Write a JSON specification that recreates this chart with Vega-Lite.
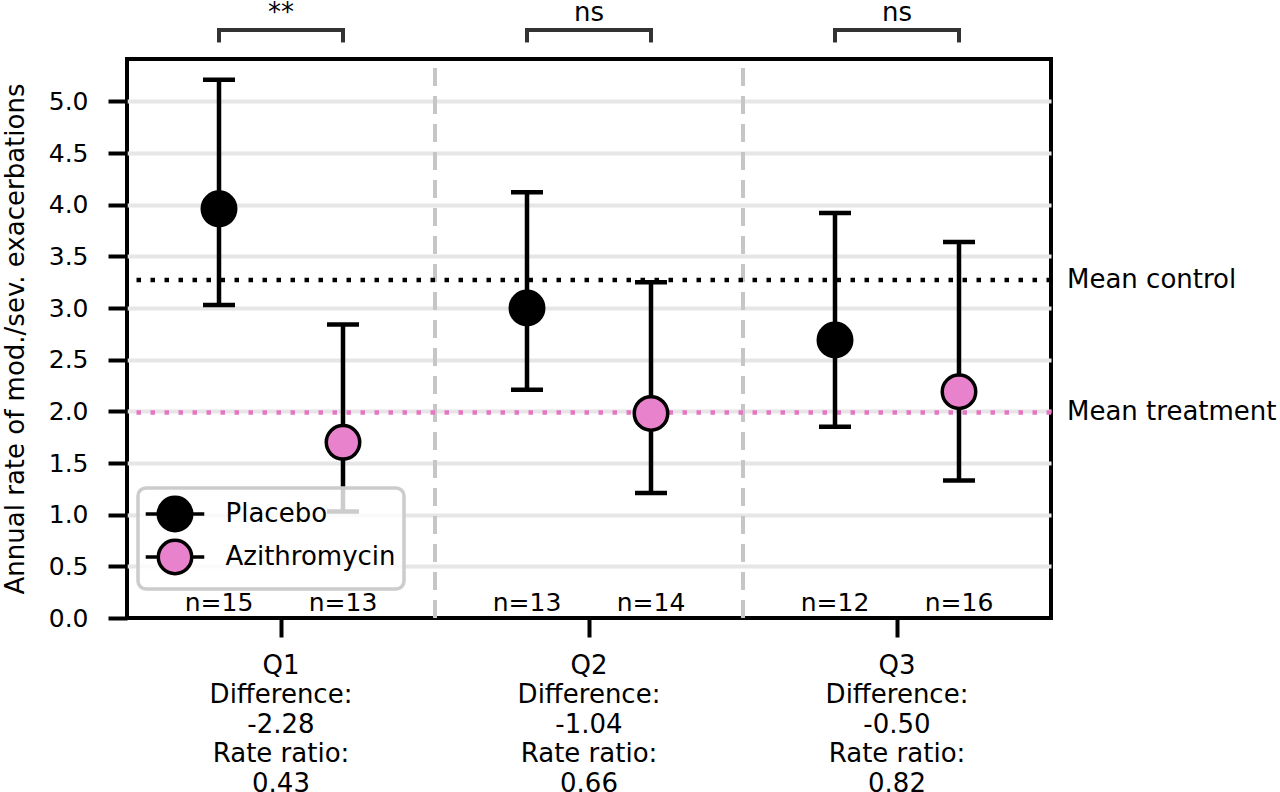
{
  "$schema": "https://vega.github.io/schema/vega-lite/v6.json",
  "autosize": {"type": "none"},
  "padding": {"left": 127, "top": 59, "right": 229, "bottom": 174},
  "width": 924,
  "height": 559,
  "background": "white",
  "datasets": {
    "points": [
      {"q": "Q1", "group": "Placebo", "rate": 3.96, "lo": 3.03, "hi": 5.21, "n": "n=15"},
      {"q": "Q1", "group": "Azithromycin", "rate": 1.70, "lo": 1.03, "hi": 2.84, "n": "n=13"},
      {"q": "Q2", "group": "Placebo", "rate": 3.00, "lo": 2.21, "hi": 4.12, "n": "n=13"},
      {"q": "Q2", "group": "Azithromycin", "rate": 1.98, "lo": 1.21, "hi": 3.25, "n": "n=14"},
      {"q": "Q3", "group": "Placebo", "rate": 2.69, "lo": 1.85, "hi": 3.92, "n": "n=12"},
      {"q": "Q3", "group": "Azithromycin", "rate": 2.19, "lo": 1.33, "hi": 3.64, "n": "n=16"}
    ],
    "stats": [
      {"q": "Q1", "sig": "**"},
      {"q": "Q2", "sig": "ns"},
      {"q": "Q3", "sig": "ns"}
    ],
    "means": [
      {"label": "Mean control", "value": 3.27},
      {"label": "Mean treatment", "value": 1.99}
    ]
  },
  "config": {
    "font": "DejaVu Sans",
    "view": {"stroke": "black", "strokeWidth": 4},
    "legend": {"strokeWidth": 3.5},
    "axis": {
      "labelColor": "black",
      "titleColor": "black",
      "tickColor": "black",
      "tickWidth": 4,
      "tickSize": 19,
      "domain": false,
      "labelFont": "DejaVu Sans",
      "titleFont": "DejaVu Sans"
    }
  },
  "layer": [
    {
      "data": {"name": "stats"},
      "transform": [{"filter": "datum.q != 'Q1'"}],
      "mark": {"type": "rule", "color": "#c6c6c6", "strokeWidth": 4, "strokeDash": [18, 10]},
      "encoding": {
        "x": {
          "field": "q",
          "type": "nominal",
          "bandPosition": 0,
          "scale": {"domain": ["Q1", "Q2", "Q3"], "paddingInner": 0, "paddingOuter": 0},
          "axis": {
            "title": null,
            "grid": false,
            "labelAngle": 0,
            "bandPosition": 0.5,
            "labelFontSize": 26,
            "labelLineHeight": 29.5,
            "labelPadding": 15,
            "labelBaseline": "top",
            "labelOverlap": false,
            "labelExpr": "datum.value == 'Q1' ? ['Q1', 'Difference:', '-2.28', 'Rate ratio:', '0.43'] : datum.value == 'Q2' ? ['Q2', 'Difference:', '-1.04', 'Rate ratio:', '0.66'] : ['Q3', 'Difference:', '-0.50', 'Rate ratio:', '0.82']"
          }
        },
        "y": {
          "datum": 0,
          "type": "quantitative",
          "scale": {"domain": [0, 5.41], "nice": false, "zero": false},
          "axis": {
            "title": "Annual rate of mod./sev. exacerbations",
            "titleFontSize": 26,
            "titleFontWeight": "normal",
            "titlePadding": 20,
            "values": [0, 0.5, 1, 1.5, 2, 2.5, 3, 3.5, 4, 4.5, 5],
            "format": ".1f",
            "labelFontSize": 25,
            "labelPadding": 20,
            "grid": true,
            "gridColor": "#e6e6e6",
            "gridWidth": 4,
            "gridOpacity": {"condition": {"test": "datum.value === 0", "value": 0}, "value": 1}
          }
        },
        "y2": {"datum": 5.41}
      }
    },
    {
      "data": {"name": "means"},
      "transform": [{"filter": "datum.label == 'Mean control'"}],
      "mark": {"type": "rule", "color": "black", "strokeWidth": 4.5, "strokeDash": [4.5, 9.5]},
      "encoding": {"y": {"field": "value", "type": "quantitative"}}
    },
    {
      "data": {"name": "means"},
      "transform": [{"filter": "datum.label == 'Mean treatment'"}],
      "mark": {"type": "rule", "color": "#e377c2", "strokeWidth": 4.5, "strokeDash": [4.5, 9.5]},
      "encoding": {"y": {"field": "value", "type": "quantitative"}}
    },
    {
      "data": {"name": "means"},
      "mark": {"type": "text", "align": "left", "baseline": "middle", "dx": 170, "fontSize": 26, "color": "black"},
      "encoding": {
        "x": {"datum": "Q3", "type": "nominal"},
        "y": {"field": "value", "type": "quantitative"},
        "text": {"field": "label"}
      }
    },
    {
      "data": {"name": "points"},
      "mark": {"type": "rule", "color": "black", "strokeWidth": 4.5},
      "encoding": {
        "x": {"field": "q", "type": "nominal"},
        "xOffset": {
          "field": "group",
          "type": "nominal",
          "scale": {"domain": ["Placebo", "Azithromycin"], "paddingInner": 0, "paddingOuter": 0.242}
        },
        "y": {"field": "lo", "type": "quantitative"},
        "y2": {"field": "hi"}
      }
    },
    {
      "data": {"name": "points"},
      "mark": {"type": "tick", "orient": "horizontal", "color": "black", "size": 32, "thickness": 4.5, "opacity": 1},
      "encoding": {
        "x": {"field": "q", "type": "nominal"},
        "xOffset": {"field": "group", "type": "nominal"},
        "y": {"field": "lo", "type": "quantitative"}
      }
    },
    {
      "data": {"name": "points"},
      "mark": {"type": "tick", "orient": "horizontal", "color": "black", "size": 32, "thickness": 4.5, "opacity": 1},
      "encoding": {
        "x": {"field": "q", "type": "nominal"},
        "xOffset": {"field": "group", "type": "nominal"},
        "y": {"field": "hi", "type": "quantitative"}
      }
    },
    {
      "data": {"name": "points"},
      "mark": {"type": "point", "shape": "circle", "filled": true, "size": 1120, "stroke": "black", "strokeWidth": 3.5, "opacity": 1},
      "encoding": {
        "x": {"field": "q", "type": "nominal"},
        "xOffset": {"field": "group", "type": "nominal"},
        "y": {"field": "rate", "type": "quantitative"},
        "fill": {
          "field": "group",
          "type": "nominal",
          "scale": {"domain": ["Placebo", "Azithromycin"], "range": ["black", "#e882cc"]},
          "legend": {
            "title": null,
            "orient": "none",
            "legendX": 11,
            "legendY": 429,
            "padding": 7.5,
            "symbolType": "M-1.75,0H-1M1,0H1.75M1,0A1,1,0,1,1,-1,0A1,1,0,1,1,1,0Z",
            "symbolSize": 1120,
            "symbolStrokeColor": "black",
            "symbolStrokeWidth": 3.5,
            "symbolOffset": 11,
            "labelOffset": 32,
            "labelFontSize": 26,
            "labelLimit": 400,
            "labelColor": "black",
            "labelFont": "DejaVu Sans",
            "rowPadding": -10,
            "fillColor": "rgba(255,255,255,0.8)",
            "strokeColor": "#cccccc",
            "cornerRadius": 8
          }
        }
      }
    },
    {
      "data": {"name": "points"},
      "mark": {"type": "text", "baseline": "middle", "dy": -15, "fontSize": 25, "color": "black"},
      "encoding": {
        "x": {"field": "q", "type": "nominal"},
        "xOffset": {"field": "group", "type": "nominal"},
        "y": {"datum": 0, "type": "quantitative"},
        "text": {"field": "n"}
      }
    },
    {
      "data": {"name": "points"},
      "mark": {"type": "rule", "color": "#333333", "strokeWidth": 4},
      "encoding": {
        "x": {"field": "q", "type": "nominal"},
        "xOffset": {"field": "group", "type": "nominal"},
        "y": {"datum": 5.57, "type": "quantitative"},
        "y2": {"datum": 5.69}
      }
    },
    {
      "data": {"name": "stats"},
      "mark": {"type": "tick", "orient": "horizontal", "color": "#333333", "size": 128, "thickness": 4, "opacity": 1},
      "encoding": {
        "x": {"field": "q", "type": "nominal"},
        "y": {"datum": 5.69, "type": "quantitative"}
      }
    },
    {
      "data": {"name": "stats"},
      "mark": {"type": "text", "baseline": "alphabetic", "fontSize": 26, "color": "black"},
      "encoding": {
        "x": {"field": "q", "type": "nominal"},
        "y": {"datum": 5.78, "type": "quantitative"},
        "text": {"field": "sig"}
      }
    }
  ]
}
